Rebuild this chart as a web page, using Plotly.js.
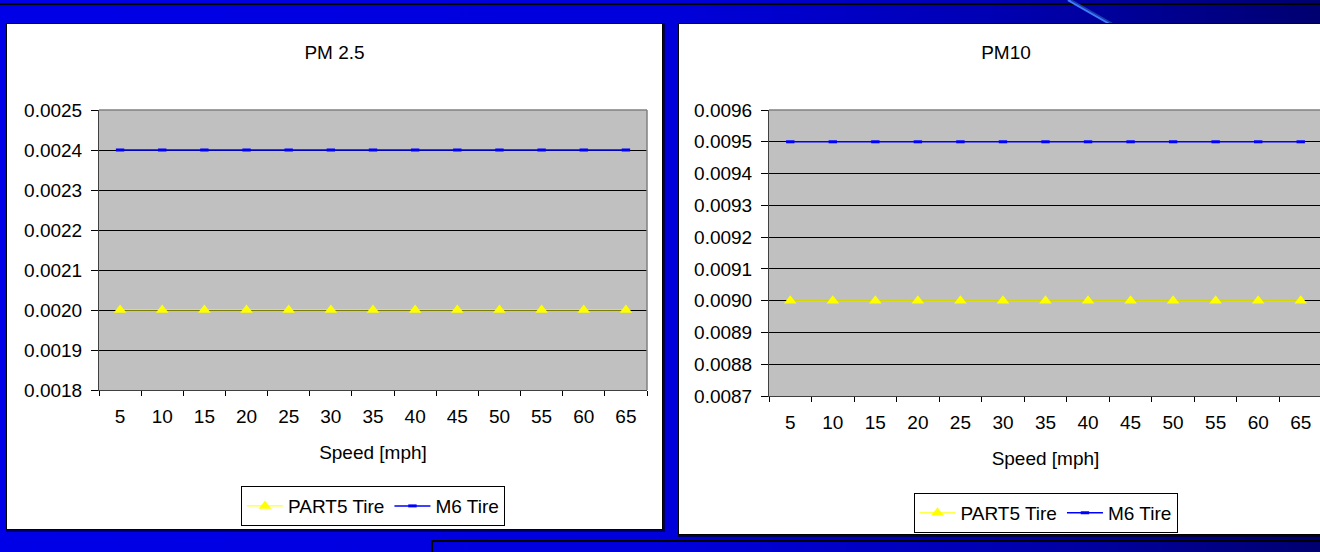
<!DOCTYPE html>
<html>
<head>
<meta charset="utf-8">
<script src="https://cdn.plot.ly/plotly-3.0.1.min.js"></script>
<style>
  html, body { margin: 0; padding: 0; }
  body {
    width: 1320px; height: 552px; overflow: hidden; position: relative;
    background: linear-gradient(to right, #0000e8 0%, #0000dc 50%, #0000b4 75%, #000070 100%);
  }
  #topline { position: absolute; left: 0; top: 3px; width: 1320px; height: 2px; background: #000; }
  #streak { position: absolute; left: 0; top: 0; }
  .panel { position: absolute; background: #fff; box-shadow: 0 0 0 1px #000, 1px 1px 0 2px rgba(0,0,0,0.6); }
  #p1 { left: 7px; top: 24px; width: 655px; height: 505px; }
  #p2 { left: 679px; top: 24px; width: 654px; height: 510px; }
  #bottombox { position: absolute; left: 431px; top: 540px; width: 900px; height: 20px;
    border-top: 2px solid #000; border-left: 2px solid #000; box-sizing: border-box; }
</style>
</head>
<body>
<div id="topline"></div>
<svg id="streak" width="1320" height="30">
  <line x1="1068" y1="0" x2="1110" y2="24" stroke="#3f7cff" stroke-width="2.5"/>
  <line x1="1071" y1="0" x2="1113" y2="24" stroke="#1a3fa8" stroke-width="1.5"/>
</svg>
<div id="p1" class="panel"></div>
<div id="p2" class="panel"></div>
<div id="bottombox"></div>
<script>
// ---- data ----
const speeds = ['5', '10', '15', '20', '25', '30', '35', '40', '45', '50', '55', '60', '65'];
const pm25Part5 = [0.0020, 0.0020, 0.0020, 0.0020, 0.0020, 0.0020, 0.0020, 0.0020, 0.0020, 0.0020, 0.0020, 0.0020, 0.0020];
const pm25M6    = [0.0024, 0.0024, 0.0024, 0.0024, 0.0024, 0.0024, 0.0024, 0.0024, 0.0024, 0.0024, 0.0024, 0.0024, 0.0024];
const pm10Part5 = [0.0090, 0.0090, 0.0090, 0.0090, 0.0090, 0.0090, 0.0090, 0.0090, 0.0090, 0.0090, 0.0090, 0.0090, 0.0090];
const pm10M6    = [0.0095, 0.0095, 0.0095, 0.0095, 0.0095, 0.0095, 0.0095, 0.0095, 0.0095, 0.0095, 0.0095, 0.0095, 0.0095];
const seriesNames = ['PART5 Tire', 'M6 Tire'];
const titles = ['PM 2.5', 'PM10'];
const xTitle = 'Speed [mph]';
const pm25Range = [0.0018, 0.0025];
const pm10Range = [0.0087, 0.0096];

const FONT = '"Liberation Sans", Arial, Helvetica, sans-serif';

function traces(part5, m6) {
  return [
    { x: speeds, y: part5, name: seriesNames[0], type: 'scatter', mode: 'lines+markers',
      line: { color: '#ffff00', width: 1 },
      marker: { symbol: 'triangle-up', size: 11, color: '#ffff00', line: { width: 0 } } },
    { x: speeds, y: m6, name: seriesNames[1], type: 'scatter', mode: 'lines+markers',
      line: { color: '#0000ff', width: 1.5 },
      marker: { symbol: 'line-ew', size: 6, color: '#0000ff', line: { color: '#0000ff', width: 3 } } }
  ];
}

function layout(title, yr, w, h, m, legY) {
  return {
    width: w, height: h,
    margin: m,
    paper_bgcolor: '#ffffff',
    plot_bgcolor: '#c0c0c0',
    font: { family: FONT, size: 19, color: '#000' },
    title: { text: title, font: { family: FONT, size: 19, color: '#000' },
             x: 0.5, xref: 'container', xanchor: 'center',
             y: 1 - 28 / h, yref: 'container', yanchor: 'middle' },
    showlegend: true,
    legend: { orientation: 'h', x: 0.5, xanchor: 'center', y: legY, yanchor: 'top',
              bgcolor: '#fff', bordercolor: '#000', borderwidth: 1, itemwidth: 36,
              font: { family: FONT, size: 19, color: '#000' }, traceorder: 'normal' },
    xaxis: {
      type: 'category', range: [-0.5, 12.5], fixedrange: true,
      showgrid: false, zeroline: false,
      showline: true, linecolor: '#404040', linewidth: 1,
      ticks: 'outside', tickson: 'boundaries', ticklen: 5, tickcolor: '#000', tickwidth: 1,
      ticklabelstandoff: 9,
      tickfont: { family: FONT, size: 19, color: '#000' },
      title: { text: xTitle, font: { family: FONT, size: 19, color: '#000' }, standoff: 19 }
    },
    yaxis: {
      range: yr, dtick: 0.0001, tick0: 0, tickformat: '.4f', fixedrange: true,
      showgrid: true, gridcolor: '#000', gridwidth: 1, zeroline: false,
      showline: true, linecolor: '#404040', linewidth: 1,
      ticks: 'outside', ticklen: 7, tickcolor: '#000', tickwidth: 1,
      ticklabelstandoff: 5,
      tickfont: { family: FONT, size: 19, color: '#000' }
    },
    shapes: [
      { type: 'line', xref: 'paper', yref: 'paper', x0: 0, x1: 1, y0: 1, y1: 1, line: { color: '#808080', width: 1.5 } },
      { type: 'line', xref: 'paper', yref: 'paper', x0: 1, x1: 1, y0: 0, y1: 1, line: { color: '#808080', width: 1.5 } }
    ]
  };
}

const cfg = { displayModeBar: false, staticPlot: true };

Plotly.newPlot('p1', traces(pm25Part5, pm25M6),
  layout(titles[0], pm25Range, 655, 505, { l: 92, r: 15, t: 86, b: 139, pad: 0, autoexpand: false }, -0.343), cfg);
Plotly.newPlot('p2', traces(pm10Part5, pm10M6),
  layout(titles[1], pm10Range, 654, 510, { l: 90, r: 11, t: 86, b: 138, pad: 0, autoexpand: false }, -0.339), cfg);
</script>
</body>
</html>
